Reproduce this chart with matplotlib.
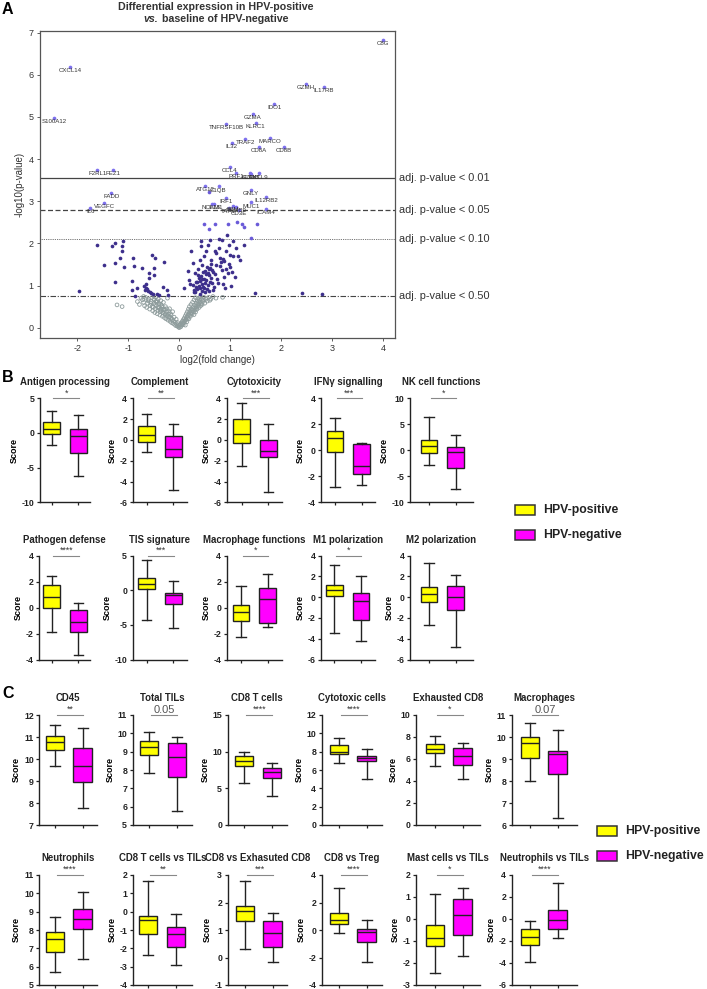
import matplotlib
matplotlib.use('Agg')
import matplotlib.pyplot as plt
from matplotlib.patches import Rectangle

plt.rcParams['font.family'] = ['Liberation Sans', 'DejaVu Sans']

# ---------------- DATA: volcano ----------------
label_genes = ["C8G", "CXCL14", "S100A12", "GZMH", "IL17RB", "IDO1", "GZMA", "KLRC1", "TNFRSF10B",
               "TRAF2", "MARCO", "IL32", "CD8A", "CD8B", "F2RL1", "FEZ1", "CCL4", "PRF1", "GZMB",
               "KLRK1", "CXCL9", "ATG12", "C1QB", "GNLY", "IL12RB2", "FADD", "VEGFC", "IL6",
               "IRF1", "MUC1", "ICAM4", "NCAM1", "IL18", "TAP1", "PSMB9", "CD3E", "B2M"]
label_x = [4.00, -2.14, -2.45, 2.49, 2.83, 1.86, 1.44, 1.50, 0.92,
           1.29, 1.77, 1.03, 1.56, 2.06, -1.61, -1.30, 0.99, 1.11, 1.39,
           1.41, 1.56, 0.51, 0.77, 1.41, 1.70, -1.33, -1.47, -1.74,
           0.92, 1.41, 1.70, 0.64, 0.69, 0.97, 1.12, 1.17, 1.05]
label_y = [6.82, 6.19, 4.98, 5.78, 5.71, 5.31, 5.08, 4.86, 4.83,
           4.48, 4.51, 4.39, 4.28, 4.28, 3.75, 3.75, 3.82, 3.68, 3.66,
           3.64, 3.66, 3.37, 3.35, 3.27, 3.11, 3.20, 2.95, 2.83,
           3.07, 2.97, 2.81, 2.93, 2.94, 2.84, 2.86, 2.80, 2.88]

light_x = [0.49, 0.59, 0.71, 0.96, 1.14, 1.23, 1.27, 1.52, 0.59, 1.41]
light_y = [2.45, 2.34, 2.45, 2.45, 2.51, 2.45, 2.38, 2.47, 3.23, 2.12]

dark_x = [-1.97, -1.61, -1.47, -1.32, -1.26, -1.26, -1.26, -1.16, -1.13, -1.13, -1.10, -1.09,
          -0.92, -0.91, -0.89, -0.92, -0.86, -0.82, -0.73, -0.69, -0.68, -0.65, -0.63, -0.60,
          -0.60, -0.57, -0.54, -0.50, -0.47, -0.49, -0.44, -0.40, -0.31, -0.29, -0.24, -0.22,
          -0.55, -0.62, -0.66, -0.52,
          0.10, 0.17, 0.19, 0.22, 0.24, 0.27, 0.28, 0.30, 0.33, 0.34, 0.37, 0.39, 0.40, 0.41,
          0.42, 0.43, 0.44, 0.46, 0.48, 0.49, 0.50, 0.53, 0.54, 0.56, 0.58, 0.60, 0.61, 0.63,
          0.65, 0.68, 0.70, 0.72, 0.74, 0.77, 0.78, 0.80, 0.83, 0.84, 0.86, 0.88, 0.91, 0.93,
          0.95, 0.97, 0.99, 1.00, 1.02, 1.05, 1.06, 1.09, 1.15, 1.19, 1.26, 1.49, 2.40, 2.80,
          0.31, 0.35, 0.38, 0.40, 0.43, 0.45, 0.47, 0.50, 0.52, 0.55, 0.57, 0.59, 0.62, 0.64,
          0.36, 0.41, 0.44, 0.48, 0.51, 0.56, 0.60, 0.66, 0.70, 0.75, 0.81, 0.87, 0.90, 0.33,
          0.29, 0.26, 0.45, 0.52, 0.58, 0.63, 0.67, 0.73, 0.79, 0.85, 0.92, 0.98, 1.03, 1.12]
dark_y = [0.87, 1.95, 1.49, 1.93, 2.02, 1.54, 1.09, 1.66, 1.93, 1.81, 2.06, 1.44,
          1.11, 1.66, 1.46, 0.89, 0.76, 0.94, 1.41, 1.00, 0.89, 1.04, 0.92, 1.30,
          1.18, 0.84, 1.72, 1.42, 1.66, 1.24, 0.80, 0.78, 0.97, 1.56, 0.90, 0.78,
          0.82, 0.86, 0.95, 0.79,
          0.95, 1.35, 1.13, 1.03, 1.81, 1.53, 0.84, 1.29, 0.97, 1.08, 1.39, 1.19, 0.93, 1.61,
          1.93, 2.05, 1.03, 1.32, 1.69, 1.16, 0.84, 1.81, 1.45, 1.97, 1.24, 1.08, 2.09, 1.60,
          1.37, 0.97, 1.81, 1.49, 1.16, 2.11, 1.89, 1.65, 2.09, 1.37, 1.03, 1.57, 1.81, 2.21,
          1.29, 1.97, 1.73, 1.45, 0.98, 2.05, 1.69, 1.21, 1.70, 1.61, 1.97, 0.82, 0.83, 0.79,
          0.85, 0.92, 1.00, 1.10, 1.22, 0.88, 0.97, 1.05, 1.12, 0.91, 1.30, 0.86, 1.18, 1.06,
          1.25, 0.80, 1.15, 0.95, 1.35, 1.02, 1.42, 0.89, 1.28, 1.05, 1.55, 1.20, 0.93, 1.08,
          0.90, 1.02, 1.48, 1.27, 1.40, 1.50, 1.33, 1.78, 1.46, 1.62, 1.39, 1.52, 1.31, 1.88]

grey_x = [-1.22, -1.12, -0.82, -0.78, -0.75, -0.72, -0.70, -0.68, -0.66, -0.64, -0.62, -0.60,
          -0.58, -0.57, -0.55, -0.54, -0.52, -0.51, -0.50, -0.49, -0.48, -0.47, -0.46, -0.45,
          -0.44, -0.43, -0.42, -0.41, -0.40, -0.39, -0.38, -0.37, -0.36, -0.35, -0.34, -0.33,
          -0.32, -0.31, -0.30, -0.29, -0.28, -0.27, -0.26, -0.25, -0.24, -0.23, -0.22, -0.21,
          -0.20, -0.19, -0.18, -0.17, -0.16, -0.15, -0.14, -0.13, -0.12, -0.11, -0.10, -0.09,
          -0.08, -0.07, -0.06, -0.05, -0.04, -0.03, -0.02, -0.01,
          0.00, 0.01, 0.02, 0.03, 0.04, 0.05, 0.06, 0.07, 0.08, 0.09, 0.10, 0.11, 0.12, 0.13,
          0.14, 0.15, 0.16, 0.17, 0.18, 0.19, 0.20, 0.21, 0.22, 0.23, 0.24, 0.25, 0.26, 0.27,
          0.28, 0.29, 0.30, 0.31, 0.32, 0.33, 0.34, 0.35, 0.36, 0.37, 0.38, 0.39, 0.40, 0.41,
          0.42, 0.44, 0.46, 0.48, 0.50, 0.52, 0.55, 0.58, 0.62, 0.66, 0.72, 0.85,
          -0.53, -0.47, -0.42, -0.38, -0.35, -0.31, -0.27, -0.23, -0.19, -0.15, -0.44, -0.40,
          -0.36, -0.33, -0.29, -0.25, -0.21, -0.17, -0.61, -0.56, -0.50, -0.46, -0.70, -0.65,
          0.06, 0.10, 0.13, 0.17, 0.21, 0.24, 0.27, 0.30, 0.33, 0.36, 0.15, 0.19, 0.23, 0.26,
          0.29, 0.32, 0.35, 0.39, 0.43, 0.47, 0.38, 0.45, 0.53, 0.60, 0.12, 0.08]
grey_y = [0.54, 0.50, 0.62, 0.55, 0.70, 0.66, 0.60, 0.52, 0.72, 0.48, 0.58, 0.68,
          0.44, 0.53, 0.62, 0.71, 0.40, 0.49, 0.57, 0.66, 0.36, 0.45, 0.73, 0.52,
          0.60, 0.33, 0.41, 0.68, 0.48, 0.56, 0.30, 0.38, 0.64, 0.44, 0.52, 0.27,
          0.35, 0.60, 0.42, 0.24, 0.31, 0.50, 0.21, 0.38, 0.28, 0.70, 0.18, 0.33,
          0.25, 0.45, 0.15, 0.22, 0.30, 0.12, 0.19, 0.38, 0.10, 0.16, 0.25, 0.08,
          0.13, 0.05, 0.20, 0.09, 0.04, 0.12, 0.02, 0.06,
          0.00, 0.04, 0.08, 0.02, 0.11, 0.06, 0.15, 0.09, 0.19, 0.12, 0.23, 0.16, 0.28, 0.20,
          0.33, 0.25, 0.38, 0.29, 0.44, 0.34, 0.50, 0.39, 0.27, 0.55, 0.44, 0.32, 0.60, 0.48,
          0.37, 0.66, 0.53, 0.42, 0.71, 0.58, 0.46, 0.63, 0.51, 0.70, 0.56, 0.66, 0.60, 0.73,
          0.52, 0.68, 0.62, 0.72, 0.58, 0.67, 0.63, 0.72, 0.68, 0.74, 0.70, 0.72,
          0.50, 0.55, 0.47, 0.43, 0.40, 0.36, 0.33, 0.29, 0.26, 0.22, 0.64, 0.58,
          0.55, 0.48, 0.44, 0.45, 0.40, 0.33, 0.64, 0.58, 0.68, 0.62, 0.74, 0.67,
          0.10, 0.15, 0.18, 0.23, 0.30, 0.36, 0.40, 0.46, 0.50, 0.55, 0.14, 0.21, 0.34, 0.42,
          0.31, 0.37, 0.44, 0.48, 0.57, 0.66, 0.62, 0.55, 0.70, 0.65, 0.06, 0.07]

threshold_y = [3.56, 2.80, 2.11, 0.75]
threshold_labels = ["adj. p-value < 0.01", "adj. p-value < 0.05", "adj. p-value < 0.10", "adj. p-value < 0.50"]
volcano_xticks = [-2, -1, 0, 1, 2, 3, 4]
volcano_yticks = [0, 1, 2, 3, 4, 5, 6, 7]

# ---------------- DATA: box panels (whislo, q1, med, q3, whishi) ----------------
B_titles = ["Antigen processing", "Complement", "Cytotoxicity", "IFNγ signalling", "NK cell functions",
            "Pathogen defense", "TIS signature", "Macrophage functions", "M1 polarization", "M2 polarization"]
B_pos = [[-1.73, -0.19, 0.58, 1.54, 3.17], [-1.16, -0.17, 0.47, 1.37, 2.46], [-2.50, -0.33, 0.57, 2.00, 3.58],
         [-2.79, -0.10, 0.92, 1.49, 2.49], [-2.77, -0.45, 0.77, 1.94, 6.45],
         [-1.88, -0.05, 0.78, 1.71, 2.40], [-4.25, 0.25, 0.97, 1.78, 4.35], [-2.26, -1.03, -0.36, 0.18, 1.66],
         [-3.42, 0.10, 0.74, 1.19, 3.08], [-2.70, -0.45, 0.30, 0.95, 3.30]]
B_neg = [[-6.15, -2.84, -0.48, 0.53, 2.64], [-4.78, -1.60, -0.90, 0.38, 1.50], [-5.04, -1.64, -1.03, 0.00, 1.50],
         [-2.69, -1.85, -1.21, 0.46, 0.59], [-7.35, -3.35, -0.39, 0.71, 3.00],
         [-3.64, -1.86, -1.08, -0.20, 0.34], [-5.46, -2.03, -0.72, -0.34, 1.30], [-1.49, -1.15, 0.69, 1.48, 2.62],
         [-4.17, -2.21, -0.32, 0.42, 2.02], [-4.80, -1.25, 0.05, 1.10, 2.10]]
B_sig = ["*", "**", "***", "***", "*", "****", "***", "*", "*", ""]
B_yticks = [[-10, -5, 0, 5], [-6, -4, -2, 0, 2, 4], [-6, -4, -2, 0, 2, 4], [-4, -2, 0, 2, 4], [-10, -5, 0, 5, 10],
            [-4, -2, 0, 2, 4], [-10, -5, 0, 5], [-4, -2, 0, 2, 4], [-6, -4, -2, 0, 2, 4], [-6, -4, -2, 0, 2, 4]]

C_titles = ["CD45", "Total TILs", "CD8 T cells", "Cytotoxic cells", "Exhausted CD8", "Macrophages",
            "Neutrophils", "CD8 T cells vs TILs", "CD8 vs Exhasuted CD8", "CD8 vs Treg", "Mast cells vs TILs",
            "Neutrophils vs TILs"]
C_pos = [[9.70, 10.41, 10.79, 11.05, 11.55], [7.85, 8.82, 9.24, 9.60, 10.09], [5.68, 8.05, 8.77, 9.41, 9.91],
         [6.73, 7.80, 8.00, 8.75, 9.53], [5.35, 6.59, 6.89, 7.34, 8.13], [8.00, 9.05, 9.72, 10.00, 10.65],
         [5.73, 6.82, 7.49, 7.89, 8.71], [-2.36, -1.22, -0.45, -0.22, 1.69], [0.31, 1.33, 1.70, 1.88, 2.79],
         [-0.19, 0.44, 0.73, 1.26, 3.08], [-2.47, -1.21, -0.86, -0.29, 1.14], [-3.92, -2.39, -1.64, -0.92, -0.22]]
C_neg = [[7.76, 8.97, 9.68, 10.48, 11.41], [5.78, 7.60, 8.73, 9.49, 9.82], [3.95, 6.36, 7.18, 7.82, 8.50],
         [5.02, 7.02, 7.27, 7.53, 8.25], [4.14, 5.41, 6.31, 6.98, 7.49], [6.30, 8.33, 9.23, 9.38, 10.34],
         [6.42, 8.04, 8.60, 9.16, 10.07], [-2.91, -1.95, -1.22, -0.84, -0.15], [-0.18, 0.37, 0.88, 1.33, 1.61],
         [-2.30, -0.87, -0.17, 0.07, 0.73], [-1.70, -0.71, 0.18, 0.90, 1.40], [-1.72, -0.88, -0.07, 0.84, 3.25]]
C_sig = ["**", "0.05", "****", "****", "*", "0.07", "****", "**", "***", "****", "*", "****"]
C_yticks = [[7, 8, 9, 10, 11, 12], [5, 6, 7, 8, 9, 10, 11], [0, 5, 10, 15], [0, 2, 4, 6, 8, 10, 12],
            [0, 2, 4, 6, 8, 10], [6, 7, 8, 9, 10, 11], [5, 6, 7, 8, 9, 10, 11], [-4, -3, -2, -1, 0, 1, 2],
            [-1, 0, 1, 2, 3], [-4, -2, 0, 2, 4], [-3, -2, -1, 0, 1, 2], [-6, -4, -2, 0, 2, 4]]

group_names = ["HPV-positive", "HPV-negative"]
group_colors = ["#ffff00", "#ff00ff"]

# ---------------- LAYOUT ----------------
W, H = 707, 989
fig = plt.figure(figsize=(W / 100, H / 100), dpi=100)


def ax_px(l, t, r, b):
    return fig.add_axes([l / W, 1 - b / H, (r - l) / W, (b - t) / H])


def ftext(x, y, s, **kw):
    return fig.text(x / W, 1 - y / H, s, **kw)


# ---------- Panel A ----------
ax = ax_px(40, 30.5, 395, 338)
ax.scatter(grey_x, grey_y, s=7, facecolors='none', edgecolors='#8e9c9c', linewidths=0.6, zorder=2)
ax.scatter(dark_x, dark_y, s=7, color='#3d2f8c', linewidths=0, zorder=3)
ax.scatter(light_x, light_y, s=7, color='#6a5ad8', linewidths=0, zorder=3)
ax.scatter(label_x, label_y, s=7, color='#7d70ee', linewidths=0, zorder=3)
for g, x, y in zip(label_genes, label_x, label_y):
    ax.annotate(g, (x, y), xytext=(0, -0.8), textcoords='offset points', ha='center', va='top',
                fontsize=4.4, color='#333333', zorder=4)
styles = ['-', (0, (4, 2)), (0, (1, 1.2)), (0, (5, 1.5, 1, 1.5))]
widths = [0.9, 0.9, 0.6, 0.8]
for yv, ls, lw, lab in zip(threshold_y, styles, widths, threshold_labels):
    ax.axhline(yv, color='#444444', linestyle=ls, linewidth=lw, zorder=1)
    ax.text(1.012, yv, lab, transform=ax.get_yaxis_transform(), va='center', ha='left',
            fontsize=7.9, color='#333333')
ax.set_xlim(-2.73, 4.23)
ax.set_ylim(-0.245, 7.05)
ax.set_xticks(volcano_xticks)
ax.set_xticklabels([str(v) for v in volcano_xticks])
ax.set_yticks(volcano_yticks)
ax.set_yticklabels([str(v) for v in volcano_yticks])
ax.tick_params(labelsize=6.5, length=2.5, width=0.6, colors='#444444', labelcolor='#333333', pad=2)
for sp in ax.spines.values():
    sp.set_color('#555555')
    sp.set_linewidth(0.9)
ax.set_xlabel("log2(fold change)", fontsize=7, color='#333333', labelpad=1)
ax.set_ylabel("-log10(p-value)", fontsize=7, color='#333333', labelpad=3)

# title with italic "vs."
ftext(216, 7, "Differential expression in HPV-positive", fontsize=7.7, fontweight='bold',
      ha='center', va='center', color='#333333')
t1 = ftext(0, 19, "vs.", fontsize=7.7, fontweight='bold', fontstyle='italic', ha='left', va='center',
           color='#333333')
t2 = ftext(0, 19, " baseline of HPV-negative", fontsize=7.7, fontweight='bold', ha='left', va='center',
           color='#333333')
fig.canvas.draw()
r = fig.canvas.get_renderer()
w1 = t1.get_window_extent(r).width
w2 = t2.get_window_extent(r).width
x0 = 216 - (w1 + w2) / 2
t1.set_x(x0 / W)
t2.set_x((x0 + w1) / W)

# panel letters
for let, y in zip(["A", "B", "C"], [9, 377, 694]):
    ftext(2, y, let, fontsize=11.5, fontweight='bold', ha='left', va='center')


# ---------- box panels ----------
def box_panel(geom, top, bot, scale, bw, title, pos, neg, sig, yticks, title_y):
    spine, tick1, end = geom
    a = ax_px(spine, top, end, bot)
    stats = [dict(whislo=s[0], q1=s[1], med=s[2], q3=s[3], whishi=s[4], fliers=[]) for s in (pos, neg)]
    bp = a.bxp(stats, positions=[1, 2], widths=bw, patch_artist=True, showfliers=False,
               boxprops=dict(linewidth=1.0, edgecolor='#222222'),
               medianprops=dict(color='#222222', linewidth=1.0),
               whiskerprops=dict(color='#222222', linewidth=1.0),
               capprops=dict(color='#222222', linewidth=1.0), capwidths=bw * 0.55)
    for b, c in zip(bp['boxes'], group_colors):
        b.set_facecolor(c)
    left = 1 - (tick1 - spine) / scale
    a.set_xlim(left, left + (end - spine) / scale)
    a.set_ylim(yticks[0], yticks[-1])
    a.set_yticks(yticks)
    a.set_yticklabels([str(v) for v in yticks])
    a.set_xticks([1, 2])
    a.set_xticklabels([])
    a.spines['top'].set_visible(False)
    a.spines['right'].set_visible(False)
    for sp in ('left', 'bottom'):
        a.spines[sp].set_linewidth(1.0)
        a.spines[sp].set_color('#222222')
    a.tick_params(length=2.5, width=0.9, labelsize=6.3, pad=1.5, colors='#222222')
    for lab in a.get_yticklabels():
        lab.set_fontweight('bold')
    a.set_ylabel("Score", fontsize=6.5, fontweight='bold', labelpad=2)
    ftext((spine + end) / 2, title_y, title, fontsize=6.9, fontweight='bold', ha='center', va='center',
          color='#222222')
    if sig:
        ytop = yticks[-1]
        a.plot([1.06, 2.02], [ytop, ytop], color='#888888', lw=0.8, clip_on=False)
        if sig.startswith('0'):
            a.text(1.54, 1.0, sig, transform=a.get_xaxis_transform(), ha='center', va='bottom',
                   fontsize=8, color='#555555')
        else:
            a.text(1.54, 1.01, sig, transform=a.get_xaxis_transform(), ha='center', va='bottom',
                   fontsize=6.3, color='#333333')
    return a


B_geom = [(40, 51.7, 90), (132.7, 146.7, 187), (226.7, 241.7, 282), (321, 335, 375), (410, 429, 473),
          (39.3, 51.7, 90), (132.7, 146.7, 187), (226.7, 241, 282), (321, 334.3, 375), (410, 429, 473)]
B_rows = [(398.3, 502.3, 382), (555.7, 659.5, 540)]
for i in range(10):
    top, bot, ty = B_rows[i // 5]
    box_panel(B_geom[i], top, bot, 26.6, 0.63, B_titles[i], B_pos[i], B_neg[i], B_sig[i], B_yticks[i], ty)

C_geom = [(39.3, 55, 97), (132.7, 149.3, 192), (227.7, 244.3, 287), (321.7, 339, 382), (416, 435, 480),
          (511.7, 530, 577),
          (39.3, 55, 97), (132.7, 148.3, 192), (227.7, 245, 287), (321.7, 339, 382), (416, 435, 480),
          (511.7, 530, 577)]
C_rows = [(715, 825, 698), (875, 985, 858)]
for i in range(12):
    top, bot, ty = C_rows[i // 6]
    box_panel(C_geom[i], top, bot, 27.6, 0.66, C_titles[i], C_pos[i], C_neg[i], C_sig[i], C_yticks[i], ty)


# ---------- legends ----------
def legend(x, ys):
    for y, name, col in zip(ys, group_names, group_colors):
        fig.patches.append(Rectangle((x / W, 1 - (y + 5) / H), 20 / W, 10 / H, transform=fig.transFigure,
                                     facecolor=col, edgecolor='#333333', linewidth=1.1))
        ftext(x + 28, y, name, fontsize=8.8, fontweight='bold', ha='left', va='center', color='#222222')


legend(515, [510, 535])
legend(597, [831, 856])

fig.savefig("out.png", dpi=100)
